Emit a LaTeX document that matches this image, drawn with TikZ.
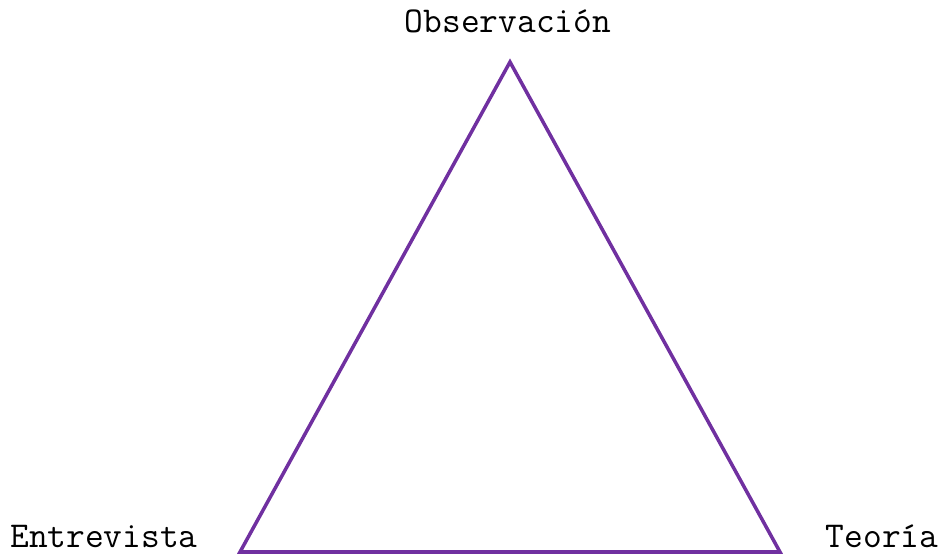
\documentclass[tikz,border=0pt]{standalone}
\usepackage{tikz}
\usetikzlibrary{calc}

\definecolor{morado}{RGB}{112,48,160}

\begin{document}
\begin{tikzpicture}
%\draw[help lines] (0,0) grid (19,11);
\useasboundingbox (0,0) rectangle (18.9,11.1);
\tikzset{etiqueta/.style={font=\fontsize{20.7}{24}\selectfont\ttfamily,inner sep=0pt,anchor=base}}

\coordinate (obs) at (10.2,9.86);
\coordinate (ent) at (4.8,0.06);
\coordinate (teo) at (15.6,0.06);

\draw[line width=2pt,color=morado,line join=miter] (obs)--(ent)--(teo)--cycle;

\node[etiqueta] (obstexto) at (10.16,10.46){Observación};
\node[etiqueta] (enttexto) at (2.08,0.16){Entrevista};
\node[etiqueta] (teotexto) at (17.64,0.16){Teoría};
\end{tikzpicture}
\end{document}
